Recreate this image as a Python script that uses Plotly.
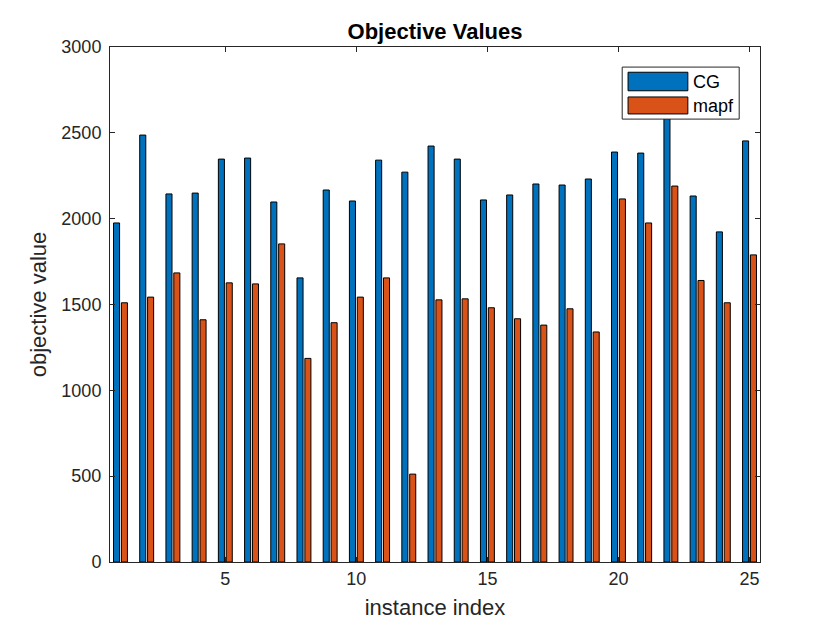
import plotly.graph_objects as go

# 인스턴스 번호와 목적값
instances = list(range(1, 26))
series_names = ["CG", "mapf"]
series_colors = ["#0072BD", "#D95319"]
cg_values = [1975, 2487, 2144, 2149, 2347, 2353, 2097, 1655, 2167, 2103,
             2341, 2271, 2423, 2347, 2109, 2138, 2202, 2196, 2231, 2388,
             2382, 2630, 2132, 1923, 2453]
mapf_values = [1510, 1543, 1684, 1411, 1626, 1620, 1853, 1186, 1394, 1543,
               1655, 512, 1527, 1533, 1481, 1417, 1380, 1475, 1340, 2115,
               1975, 2190, 1640, 1510, 1789]
x_ticks = [5, 10, 15, 20, 25]

fig = go.Figure()
for name, color, vals in zip(series_names, series_colors, [cg_values, mapf_values]):
    fig.add_trace(go.Bar(x=instances, y=vals, name=name,
                         marker=dict(color=color, line=dict(color="black", width=1))))

axis_style = dict(showline=True, linecolor="#262626", linewidth=1, mirror="ticks",
                  ticks="inside", ticklen=5, tickcolor="#262626", showgrid=False,
                  zeroline=False, tickfont=dict(size=18, color="#262626"))

# MATLAB 스타일 범례 (넓은 색상 상자)
shapes = [dict(type="rect", xref="paper", yref="paper", x0=0.788, x1=0.968,
               y0=0.860, y1=0.961, fillcolor="white",
               line=dict(color="#262626", width=1), layer="above")]
annotations = []
swatch_y = [(0.915, 0.951), (0.870, 0.903)]
text_y = [0.932, 0.886]
for name, color, (y0, y1), ty in zip(series_names, series_colors, swatch_y, text_y):
    shapes.append(dict(type="rect", xref="paper", yref="paper", x0=0.797, x1=0.889,
                       y0=y0, y1=y1, fillcolor=color,
                       line=dict(color="black", width=1), layer="above"))
    annotations.append(dict(text=name, xref="paper", yref="paper", x=0.894, y=ty,
                            xanchor="left", yanchor="middle", showarrow=False,
                            font=dict(size=18, color="black")))

fig.update_layout(
    width=840, height=630,
    barmode="group", bargap=0.4, bargroupgap=0.23,
    showlegend=False,
    font=dict(family="Liberation Sans, Arial", color="#262626"),
    title=dict(text="<b>Objective Values</b>", x=0.5, xanchor="center",
               xref="paper", y=1 - 23 / 630, yanchor="middle",
               font=dict(size=22, color="black")),
    xaxis=dict(title=dict(text="instance index", font=dict(size=22), standoff=12),
               range=[0.6, 25.4], tickvals=x_ticks, **axis_style),
    yaxis=dict(title=dict(text="objective value", font=dict(size=22), standoff=8),
               range=[0, 3000], dtick=500, ticklabelstandoff=4, **axis_style),
    shapes=shapes, annotations=annotations,
    margin=dict(l=102, r=88, t=39, b=76),
    plot_bgcolor="white", paper_bgcolor="white",
)

fig.write_html("out.html")
